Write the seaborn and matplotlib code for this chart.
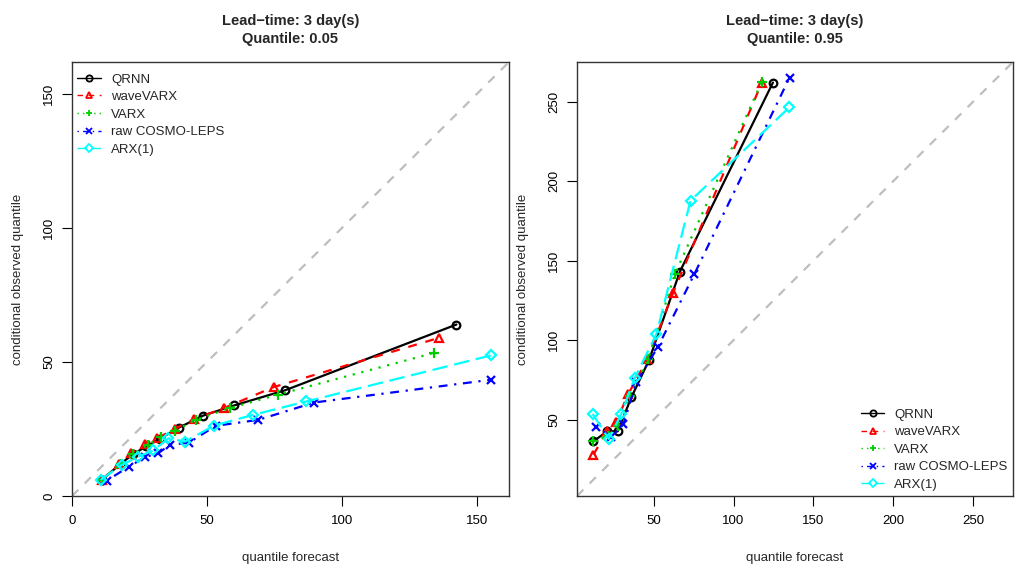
import matplotlib
matplotlib.use('Agg')
import matplotlib.pyplot as plt
from matplotlib.lines import Line2D
import seaborn as sns
import pandas as pd

# подписи серий
models = ['QRNN', 'waveVARX', 'VARX', 'raw COSMO-LEPS', 'ARX(1)']

# квантиль 0.05: прогноз (x) и условный наблюдаемый квантиль (y)
q05_x = {
    'QRNN': [11, 18, 22.5, 27.5, 32.6, 39.6, 48.6, 60.1, 79.1, 142.5],
    'waveVARX': [11, 17.5, 22, 27, 31.5, 38, 45.3, 56.3, 74.9, 135.9],
    'VARX': [11, 18, 22.5, 28, 33, 38.1, 46, 58.5, 76.2, 134.2],
    'raw COSMO-LEPS': [12.8, 21.2, 27, 32, 36.3, 43.3, 53.3, 69, 89.8, 155.4],
    'ARX(1)': [10.6, 18.4, 24.6, 30.1, 35.7, 41.9, 52.7, 67.2, 86.9, 155.4],
}
q05_y = {
    'QRNN': [6, 12, 15.5, 18.5, 21.4, 25.5, 30, 33.8, 39.5, 64.0],
    'waveVARX': [6, 12, 16, 19.5, 21.5, 25, 28.7, 32.8, 40.7, 59.0],
    'VARX': [6, 12, 15.5, 19, 22, 24.3, 28.5, 32.8, 37.8, 53.4],
    'raw COSMO-LEPS': [5.7, 11, 14.5, 16, 19.1, 19.9, 26.2, 28.4, 34.9, 43.4],
    'ARX(1)': [6, 11.6, 14.7, 17, 21.5, 20.3, 26.3, 30.3, 35.3, 52.5],
}

# квантиль 0.95
q95_x = {
    'QRNN': [12.3, 20.9, 27.5, 36, 47.1, 66.4, 124.7],
    'waveVARX': [12.3, 20.9, 26.5, 34, 46, 62.2, 117.7],
    'VARX': [12.3, 21.5, 27.5, 35, 46.5, 63.2, 117.7],
    'raw COSMO-LEPS': [14, 23.4, 31.1, 39.1, 52.7, 75.4, 135.1],
    'ARX(1)': [11.8, 21.9, 29.7, 38.1, 51.7, 73.1, 134.9],
}
q95_y = {
    'QRNN': [36.4, 42.7, 42.7, 64, 87.5, 143.1, 262.1],
    'waveVARX': [28.0, 43, 48.4, 66, 88, 129.9, 262],
    'VARX': [36.4, 40, 46, 65, 88, 141.4, 262.5],
    'raw COSMO-LEPS': [45.6, 39.0, 47.3, 73.5, 95.8, 141.4, 265.2],
    'ARX(1)': [53.6, 37.9, 53.6, 76.2, 103.8, 187.8, 246.4],
}

colors = {'QRNN': 'black', 'waveVARX': 'red', 'VARX': '#00CD00',
          'raw COSMO-LEPS': 'blue', 'ARX(1)': 'cyan'}
markers = {'QRNN': 'o', 'waveVARX': '^', 'VARX': '+',
           'raw COSMO-LEPS': 'x', 'ARX(1)': 'D'}
# типы линий как в R: 1..5
dashes = {'QRNN': '-', 'waveVARX': (0, (4, 4)), 'VARX': (0, (1, 3)),
          'raw COSMO-LEPS': (0, (1, 3, 4, 3)), 'ARX(1)': (0, (7, 3))}
msizes = {'QRNN': 5.5, 'waveVARX': 6, 'VARX': 7.5, 'raw COSMO-LEPS': 6, 'ARX(1)': 5.2}

sns.set_style('ticks')
plt.rcParams['font.family'] = ['Liberation Sans', 'DejaVu Sans']

fig = plt.figure(figsize=(10.24, 5.75), dpi=100)
ax1 = fig.add_axes([72 / 1024, 1 - 496 / 575, 437 / 1024, 434 / 575])
ax2 = fig.add_axes([577 / 1024, 1 - 496 / 575, 436 / 1024, 434 / 575])


def draw_panel(ax, xs, ys, lim, ticks, quant, legend_loc, anchor):
    ax.plot(lim, lim, color='#BEBEBE', lw=1.6, ls=(0, (4, 4)), zorder=1)
    for m in models:
        df = pd.DataFrame({'x': xs[m], 'y': ys[m]})
        sns.lineplot(data=df, x='x', y='y', ax=ax, sort=False, estimator=None,
                     errorbar=None, color=colors[m], linestyle=dashes[m], lw=1.6,
                     marker=markers[m], markersize=msizes[m],
                     markerfacecolor='none', markeredgecolor=colors[m],
                     markeredgewidth=1.6, zorder=3)
    ax.set_xlim(lim)
    ax.set_ylim(lim)
    ax.set_xticks(ticks)
    ax.set_yticks(ticks)
    ax.set_yticklabels([str(t) for t in ticks], rotation=90, va='center')
    ax.tick_params(direction='out', length=7, width=0.8, labelsize=9.5, pad=5,
                   colors='black')
    ax.tick_params(axis='x', pad=7)
    for s in ax.spines.values():
        s.set_visible(True)
        s.set_color('#333333')
        s.set_linewidth(1.0)
    ax.set_xlabel('quantile forecast', fontsize=9.5, labelpad=18)
    ax.set_ylabel('conditional observed quantile', fontsize=9.5, labelpad=14)
    ax.set_title('Lead\u2212time: 3 day(s)\nQuantile: ' + quant,
                 fontsize=10.5, fontweight='bold', pad=14, linespacing=1.35)
    handles = [Line2D([], [], color=colors[m], ls=dashes[m], lw=1.0,
                      marker=markers[m], markersize=4.5, markerfacecolor='none',
                      markeredgewidth=1.3) for m in models]
    ax.legend(handles, models, loc=legend_loc, bbox_to_anchor=anchor,
              frameon=False, fontsize=9.5, handlelength=1.8, handletextpad=0.75,
              labelspacing=0.4, borderaxespad=0.0)


draw_panel(ax1, q05_x, q05_y, (0, 162), [0, 50, 100, 150], '0.05',
           'upper left', (0, 0.986))
draw_panel(ax2, q95_x, q95_y, (2, 275), [50, 100, 150, 200, 250], '0.95',
           'lower right', (1, 0))

fig.savefig('out.png', dpi=100)
